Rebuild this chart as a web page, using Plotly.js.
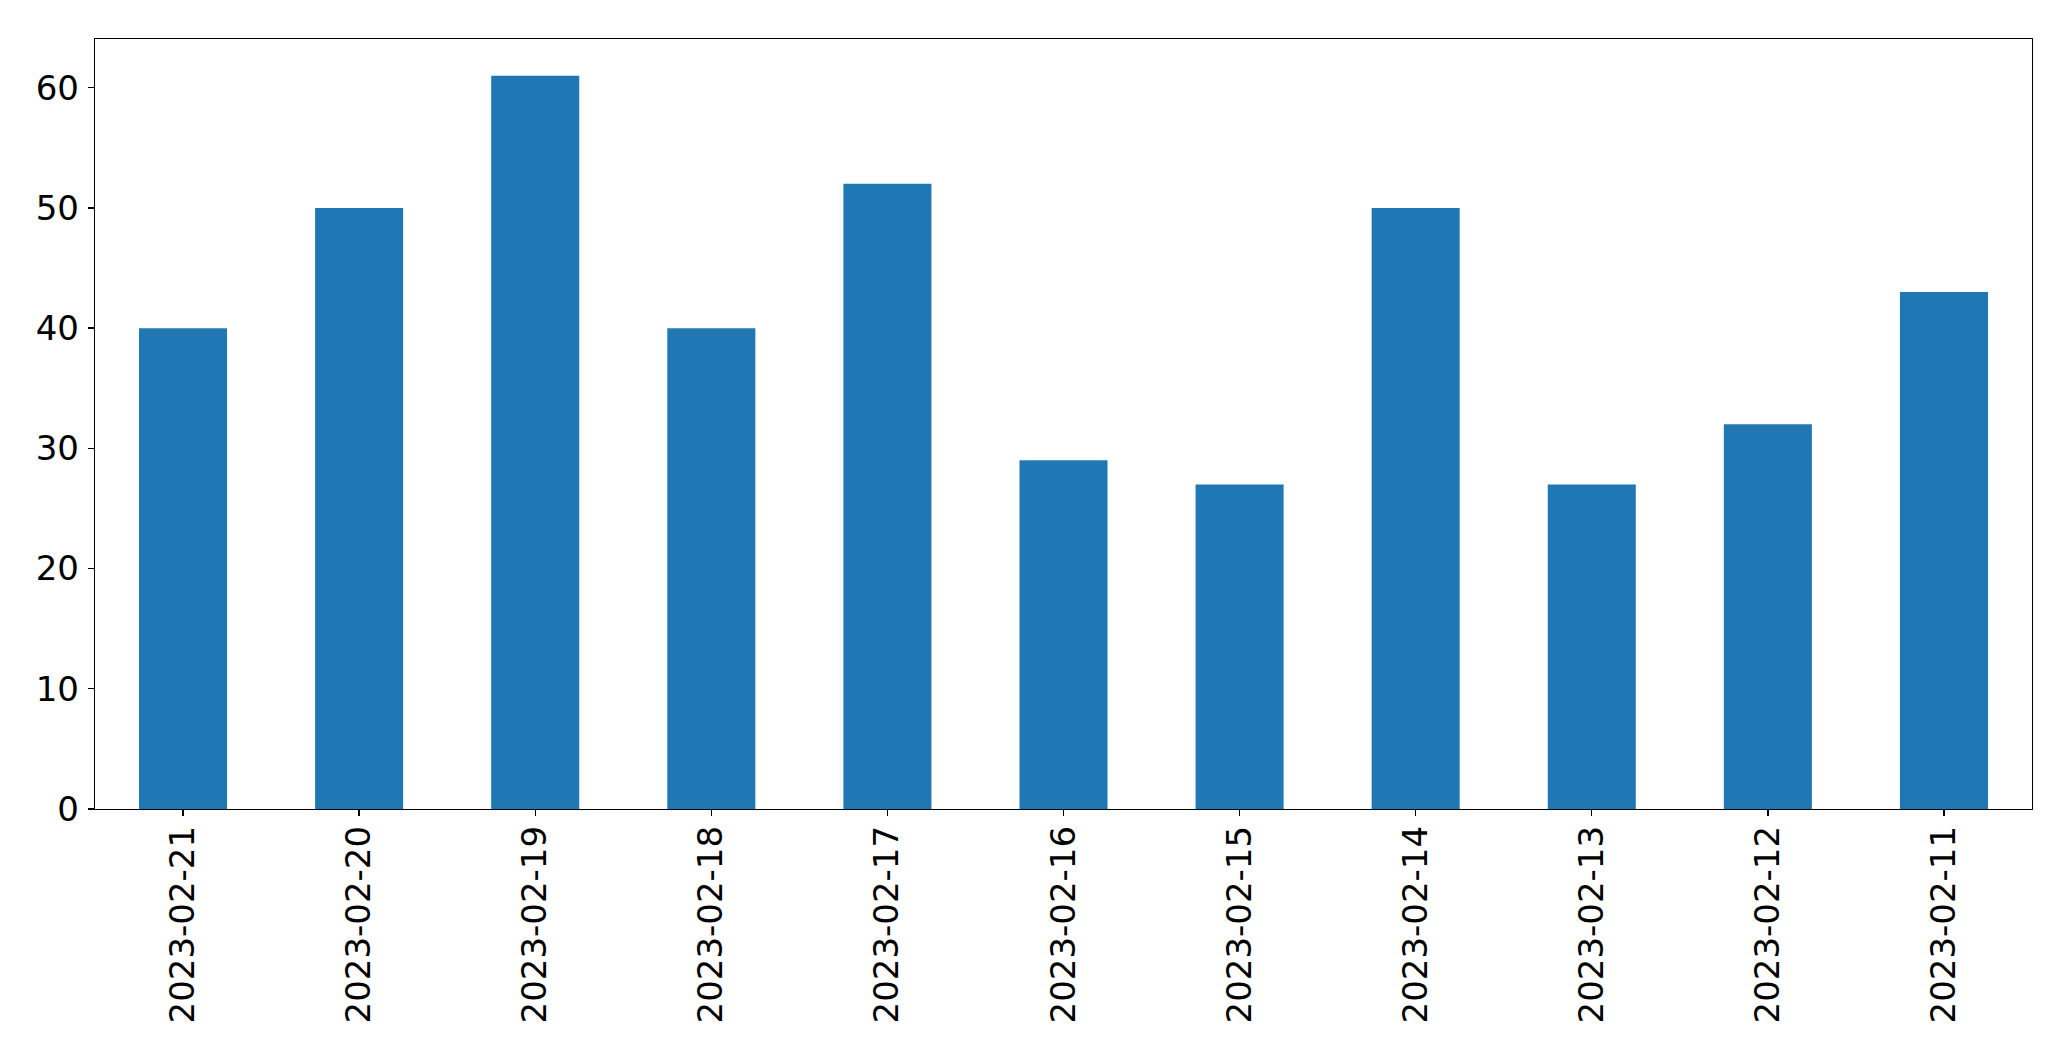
<!DOCTYPE html>
<html>
<head>
<meta charset="utf-8">
<script src="https://cdn.plot.ly/plotly-3.0.1.min.js"></script>
<style>html,body{margin:0;padding:0;background:#fff;}#chart{width:2071px;height:1061px;}</style>
</head>
<body>
<div id="chart"></div>
<script>
const categories = ["2023-02-21","2023-02-20","2023-02-19","2023-02-18","2023-02-17","2023-02-16","2023-02-15","2023-02-14","2023-02-13","2023-02-12","2023-02-11"];
const values = [40, 50, 61, 40, 52, 29, 27, 50, 27, 32, 43];
const yTicks = [0, 10, 20, 30, 40, 50, 60];

const trace = {
  type: 'bar',
  x: categories,
  y: values,
  width: 0.5,
  marker: {color: '#1f77b4', line: {width: 0}},
  hoverinfo: 'x+y'
};

const font = {family: 'DejaVu Sans, sans-serif', size: 34, color: '#000'};

const layout = {
  width: 2071,
  height: 1061,
  margin: {l: 95, r: 39, t: 39, b: 252, pad: 0},
  paper_bgcolor: '#fff',
  plot_bgcolor: '#fff',
  showlegend: false,
  font: font,
  xaxis: {
    type: 'category',
    range: [-0.5, 10.5],
    tickangle: -90,
    ticks: 'outside',
    ticklen: 6,
    tickwidth: 1.3,
    tickcolor: '#000',
    showline: true,
    linecolor: '#000',
    linewidth: 1.3,
    mirror: true,
    showgrid: false,
    zeroline: false,
    tickfont: font,
    ticklabelstandoff: -4,
    automargin: false
  },
  yaxis: {
    range: [0, 64.05],
    tickvals: yTicks,
    ticktext: yTicks.map(String),
    ticks: 'outside',
    ticklen: 6,
    tickwidth: 1.3,
    tickcolor: '#000',
    showline: true,
    linecolor: '#000',
    linewidth: 1.3,
    mirror: true,
    showgrid: false,
    zeroline: false,
    tickfont: font,
    ticklabelstandoff: 2,
    automargin: false
  }
};

Plotly.newPlot('chart', [trace], layout, {displayModeBar: false, staticPlot: true});
</script>
</body>
</html>
